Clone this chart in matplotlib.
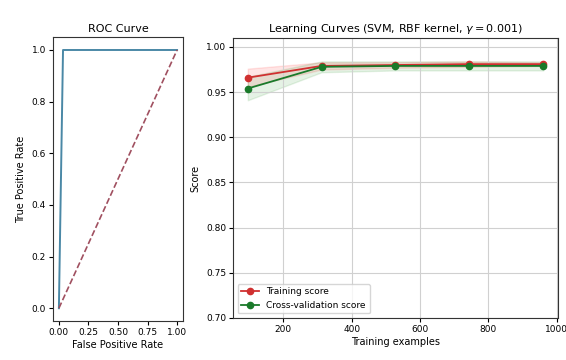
import matplotlib
matplotlib.use("Agg")
import matplotlib.pyplot as plt
import numpy as np

# ROC data
fpr = [0.0, 0.035, 1.0]
tpr = [0.0, 1.0, 1.0]
diag = [0.0, 1.0]

# Learning curve data
train_sizes = [96, 312, 528, 744, 960]
train_mean = [0.966, 0.979, 0.980, 0.981, 0.981]
train_std = [0.010, 0.004, 0.003, 0.003, 0.002]
cv_mean = [0.954, 0.978, 0.979, 0.979, 0.979]
cv_std = [0.013, 0.006, 0.005, 0.005, 0.005]

plt.rcParams['font.family'] = ['DejaVu Sans']
fig = plt.figure(figsize=(5.66, 3.6), dpi=100)

ax1 = fig.add_axes([0.0936, 0.108, 0.2297, 0.789])
ax1.plot(fpr, tpr, color='#4a88a6', lw=1.4)
ax1.plot(diag, diag, linestyle='--', color='#a05060', lw=1.2)
ax1.set_title('ROC Curve', fontsize=8, pad=4)
ax1.set_xlabel('False Positive Rate', fontsize=7, labelpad=2)
ax1.set_ylabel('True Positive Rate', fontsize=7, labelpad=4)
ax1.set_xticks([0, 0.25, 0.5, 0.75, 1.0])
ax1.tick_params(labelsize=6.5, length=3, pad=2)
for s in ax1.spines.values():
    s.set_color('#333333')

ax2 = fig.add_axes([0.4117, 0.1167, 0.574, 0.778])
tm, ts = np.array(train_mean), np.array(train_std)
cm, cs = np.array(cv_mean), np.array(cv_std)
ax2.fill_between(train_sizes, tm - ts, tm + ts, alpha=0.1, color='r')
ax2.fill_between(train_sizes, cm - cs, cm + cs, alpha=0.1, color='g')
ax2.plot(train_sizes, train_mean, 'o-', color='#d03030', label='Training score', ms=4.5, lw=1.3)
ax2.plot(train_sizes, cv_mean, 'o-', color='#1a7a2a', label='Cross-validation score', ms=4.5, lw=1.3)
ax2.set_ylim(0.70, 1.01)
ax2.grid(True, color='#d0d0d0', lw=0.8)
ax2.set_title('Learning Curves (SVM, RBF kernel, $\\gamma = 0.001$)', fontsize=8, pad=4)
ax2.set_xlabel('Training examples', fontsize=7, labelpad=2)
ax2.set_ylabel('Score', fontsize=7, labelpad=4)
ax2.tick_params(labelsize=6.5, length=3, pad=2)
for s in ax2.spines.values():
    s.set_color('#333333')
ax2.legend(loc='lower left', fontsize=6.5)

fig.savefig('out.png', dpi=100)
